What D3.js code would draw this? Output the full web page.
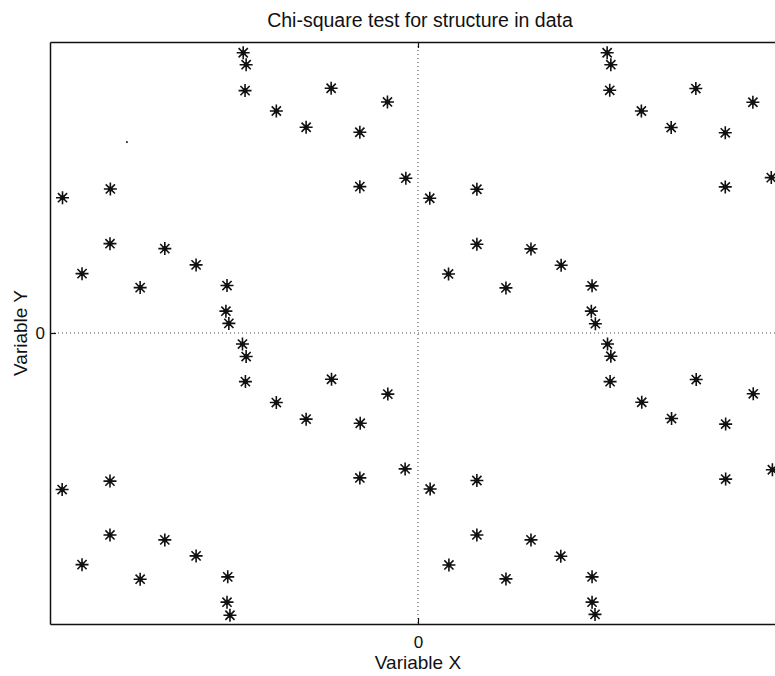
<!DOCTYPE html>
<html>
<head>
<meta charset="utf-8">
<script src="https://cdn.jsdelivr.net/npm/d3@7"></script>
<style>
  body { margin: 0; background: #fff; }
  text { font-family: "Liberation Sans", Arial, sans-serif; fill: #111; }
</style>
</head>
<body>
<div id="chart"></div>
<script>
// points, [x, y] in data units (both axes run -1..1)
var upperLeft = [[-0.966, 0.465], [-0.836, 0.495], [-0.837, 0.307], [-0.913, 0.204], [-0.688, 0.290],
                 [-0.755, 0.156], [-0.603, 0.234], [-0.519, 0.163], [-0.522, 0.075], [-0.514, 0.033]];
var upperMid = [[-0.475, 0.963], [-0.467, 0.922], [-0.470, 0.833], [-0.385, 0.763], [-0.304, 0.707],
                [-0.236, 0.841], [-0.158, 0.690], [-0.083, 0.794], [-0.158, 0.503], [-0.033, 0.532]];
var lowerLeft = [[-0.967, -0.538], [-0.837, -0.509], [-0.837, -0.694], [-0.913, -0.796], [-0.688, -0.711],
                 [-0.755, -0.846], [-0.603, -0.766], [-0.517, -0.838], [-0.519, -0.925], [-0.511, -0.970]];
var lowerMid = [[-0.477, -0.038], [-0.467, -0.081], [-0.469, -0.167], [-0.385, -0.239], [-0.304, -0.296],
                [-0.235, -0.159], [-0.157, -0.310], [-0.082, -0.210], [-0.158, -0.498], [-0.035, -0.467]];
var upperRight = [[0.032, 0.463], [0.160, 0.494], [0.160, 0.305], [0.083, 0.203], [0.307, 0.289],
                  [0.239, 0.155], [0.389, 0.233], [0.473, 0.162], [0.471, 0.075], [0.482, 0.032]];
var upperFar = [[0.514, 0.963], [0.524, 0.922], [0.521, 0.834], [0.607, 0.763], [0.688, 0.706],
                [0.755, 0.840], [0.835, 0.688], [0.910, 0.793], [0.835, 0.502], [0.960, 0.534]];
var lowerRight = [[0.033, -0.536], [0.160, -0.507], [0.160, -0.694], [0.084, -0.797], [0.307, -0.711],
                  [0.239, -0.845], [0.388, -0.767], [0.473, -0.838], [0.473, -0.925], [0.481, -0.967]];
var lowerFar = [[0.515, -0.038], [0.524, -0.080], [0.522, -0.167], [0.608, -0.238], [0.689, -0.294],
                [0.756, -0.160], [0.836, -0.313], [0.911, -0.209], [0.836, -0.502], [0.963, -0.470]];
var strayDots = [[-0.791, 0.656]];

var xTicks = [0], yTicks = [0];

var W = 775, H = 676;
var margin = {top: 42, left: 50, bottom: 52};
var plotW = 736, plotH = H - margin.top - margin.bottom;

var svg = d3.select("#chart").append("svg")
    .attr("width", W).attr("height", H);

var x = d3.scaleLinear().domain([-1, 1]).range([margin.left, margin.left + plotW]);
var y = d3.scaleLinear().domain([-1, 1]).range([margin.top + plotH, margin.top]);

// dotted zero lines
svg.append("line")
    .attr("x1", x(0)).attr("x2", x(0)).attr("y1", y(1)).attr("y2", y(-1))
    .attr("stroke", "#444").attr("stroke-width", 1).attr("stroke-dasharray", "1,3");
svg.append("line")
    .attr("x1", x(-1)).attr("x2", x(1)).attr("y1", y(0)).attr("y2", y(0))
    .attr("stroke", "#444").attr("stroke-width", 1).attr("stroke-dasharray", "1,3");

// axes with inward ticks
var xAxis = svg.append("g")
    .attr("transform", "translate(0," + y(-1) + ")")
    .call(d3.axisBottom(x).tickValues(xTicks).tickSizeInner(-6).tickSizeOuter(0).tickPadding(12).tickFormat(d3.format("d")));
var xTop = svg.append("g")
    .attr("transform", "translate(0," + y(1) + ")")
    .call(d3.axisTop(x).tickValues(xTicks).tickSizeInner(-6).tickSizeOuter(0).tickFormat(""));
var yAxis = svg.append("g")
    .attr("transform", "translate(" + x(-1) + ",0)")
    .call(d3.axisLeft(y).tickValues(yTicks).tickSizeInner(-6).tickSizeOuter(0).tickPadding(5).tickFormat(d3.format("d")));

[xAxis, xTop, yAxis].forEach(function (g) {
    g.selectAll("path.domain").attr("stroke", "#111").attr("stroke-width", 1.5);
    g.selectAll(".tick line").attr("stroke", "#111").attr("stroke-width", 1.2);
    g.selectAll(".tick text").attr("font-size", "17px").attr("fill", "#111")
        .style("font-family", "'Liberation Sans', Arial, sans-serif");
});

// asterisk markers
var star = "M-6.5,0H6.5M0,-6.5V6.5M-4.6,-4.6L4.6,4.6M-4.6,4.6L4.6,-4.6";
var all = [].concat(upperLeft, upperMid, lowerLeft, lowerMid, upperRight, upperFar, lowerRight, lowerFar);

var marks = svg.append("g").selectAll("g")
    .data(all)
    .enter()
    .append("g")
    .attr("transform", function (d) { return "translate(" + x(d[0]) + "," + y(d[1]) + ")"; });
marks.append("path")
    .attr("d", star)
    .attr("stroke", "#111").attr("stroke-width", 1.6).attr("fill", "none");
marks.append("circle")
    .attr("r", 2.5).attr("fill", "#111");

svg.append("g").selectAll("circle")
    .data(strayDots)
    .enter()
    .append("circle")
    .attr("cx", function (d) { return x(d[0]); })
    .attr("cy", function (d) { return y(d[1]); })
    .attr("r", 1.1).attr("fill", "#333");

// titles
svg.append("text")
    .attr("x", 420).attr("y", 27)
    .attr("text-anchor", "middle")
    .attr("font-size", "19.5px")
    .text("Chi-square test for structure in data");
svg.append("text")
    .attr("x", x(0)).attr("y", 669)
    .attr("text-anchor", "middle")
    .attr("font-size", "19px")
    .text("Variable X");
svg.append("text")
    .attr("transform", "translate(27," + y(0) + ") rotate(-90)")
    .attr("text-anchor", "middle")
    .attr("font-size", "19px")
    .text("Variable Y");
</script>
</body>
</html>
